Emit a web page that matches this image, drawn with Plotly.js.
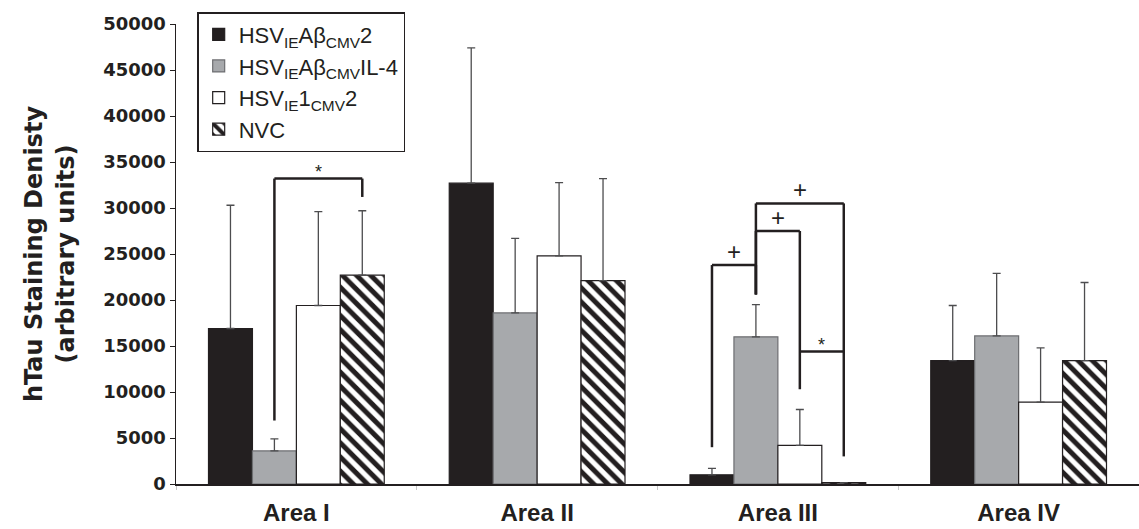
<!DOCTYPE html>
<html>
<head>
<meta charset="utf-8">
<script src="https://cdn.plot.ly/plotly-3.0.1.min.js"></script>
<style>html,body{margin:0;padding:0;background:#fff;}#chart{width:1139px;height:529px;}</style>
</head>
<body>
<div id="chart"></div>
<script>
// ---- data ----
var categories = ['Area I', 'Area II', 'Area III', 'Area IV'];
var seriesNames = [
  'HSV<sub>IE</sub>Aβ<sub>CMV</sub>2',
  'HSV<sub>IE</sub>Aβ<sub>CMV</sub>IL-4',
  'HSV<sub>IE</sub>1<sub>CMV</sub>2',
  'NVC'
];
var abCmv2      = [16900, 32700, 1000, 13400];
var abCmv2Err   = [13400, 14700, 700, 6000];
var abCmvIL4    = [3600, 18600, 16000, 16100];
var abCmvIL4Err = [1300, 8100, 3500, 6800];
var ie1Cmv2     = [19400, 24800, 4200, 8900];
var ie1Cmv2Err  = [10200, 7950, 3900, 5900];
var nvc         = [22700, 22100, 150, 13400];
var nvcErr      = [7000, 11100, 0, 8500];
var yTickVals   = [0, 5000, 10000, 15000, 20000, 25000, 30000, 35000, 40000, 45000, 50000];

// significance brackets: category index, bar from, bar to, left leg bottom, right leg bottom, top, label
var brCat   = [0, 2, 2, 2, 2];
var brFrom  = [1, 0, 1, 1, 2];
var brTo    = [3, 1, 2, 3, 3];
var brLeft  = [6900, 4000, 20600, 20600, 14400];
var brRight = [31200, 20600, 10300, 3000, 14400];
var brTop   = [33200, 23800, 27500, 30500, 14400];
var brLabel = ['*', '+', '+', '+', '*'];

// ---- styling ----
var BARGAP = 0.27;
var INK = '#231f20';
var WIDEFONT = 'DejaVu Sans, Liberation Sans, Arial, sans-serif';
var SANS = 'Liberation Sans, Arial, sans-serif';
var fills = [INK, '#a7a9ac', '#ffffff', '#ffffff'];
var outlines = [INK, '#6d6e71', INK, INK];
var vals = [abCmv2, abCmvIL4, ie1Cmv2, nvc];
var errs = [abCmv2Err, abCmvIL4Err, ie1Cmv2Err, nvcErr];

var traces = vals.map(function (v, i) {
  var t = {
    type: 'bar',
    name: seriesNames[i],
    x: categories,
    y: v,
    marker: {color: fills[i], line: {color: outlines[i], width: 1.2}},
    error_y: {type: 'data', symmetric: false, array: errs[i], arrayminus: v.map(function(){return 0;}),
              color: '#4d4d4f', thickness: 1.3, width: 4}
  };
  if (i === 3) {
    t.marker.pattern = {shape: '\\', size: 10, solidity: 0.5, fgcolor: INK, bgcolor: '#ffffff', fillmode: 'replace'};
  }
  return t;
});

function barCenter(cat, idx) {
  var w = (1 - BARGAP) / 4;
  return cat - (1 - BARGAP) / 2 + w * (idx + 0.5);
}

var shapes = [], annotations = [];
var lineStyle = {color: INK, width: 2.5};
for (var k = 0; k < brCat.length; k++) {
  var xa = barCenter(brCat[k], brFrom[k]);
  var xb = barCenter(brCat[k], brTo[k]);
  shapes.push({type: 'line', xref: 'x', yref: 'y', x0: xa, x1: xa, y0: brLeft[k], y1: brTop[k], line: lineStyle});
  shapes.push({type: 'line', xref: 'x', yref: 'y', x0: xa, x1: xb, y0: brTop[k], y1: brTop[k], line: lineStyle});
  shapes.push({type: 'line', xref: 'x', yref: 'y', x0: xb, x1: xb, y0: brRight[k], y1: brTop[k], line: lineStyle});
  var isStar = brLabel[k] === '*';
  annotations.push({
    xref: 'x', yref: 'y', x: (xa + xb) / 2, y: brTop[k], text: brLabel[k], showarrow: false,
    yanchor: 'bottom', yshift: isStar ? -5 : -2,
    font: {family: SANS, size: isStar ? 18 : 24, color: INK}
  });
}

var layout = {
  width: 1139, height: 529,
  margin: {l: 176, r: 0, t: 24, b: 45},
  paper_bgcolor: '#ffffff', plot_bgcolor: '#ffffff',
  barmode: 'group', bargap: BARGAP, bargroupgap: 0,
  showlegend: true,
  legend: {
    x: 0.022, y: 1.026, xanchor: 'left', yanchor: 'top',
    bgcolor: '#ffffff', bordercolor: INK, borderwidth: 1.5,
    font: {family: SANS, size: 22, color: INK},
    tracegroupgap: 0
  },
  xaxis: {
    type: 'category', range: [-0.5, 3.5], fixedrange: true,
    showline: true, linecolor: INK, linewidth: 2,
    ticks: 'outside', tickson: 'boundaries', ticklen: 4, tickcolor: '#c8c8c8', tickwidth: 1,
    ticklabelstandoff: 6,
    showgrid: false, zeroline: false,
    tickfont: {family: SANS, size: 24, color: INK, weight: 'bold'}
  },
  yaxis: {
    range: [0, 50000], tickvals: yTickVals, ticktext: yTickVals.map(String),
    showline: true, linecolor: INK, linewidth: 1.5,
    ticks: 'outside', ticklen: 5, tickcolor: INK, tickwidth: 1,
    showgrid: false, zeroline: false,
    tickfont: {family: WIDEFONT, size: 18, color: INK, weight: 'bold'},
    title: {text: 'hTau Staining Denisty<br>(arbitrary units)', standoff: 22,
            font: {family: WIDEFONT, size: 24, color: INK, weight: 'bold'}}
  },
  shapes: shapes,
  annotations: annotations
};

Plotly.newPlot('chart', traces, layout, {displayModeBar: false, staticPlot: true});
</script>
</body>
</html>
